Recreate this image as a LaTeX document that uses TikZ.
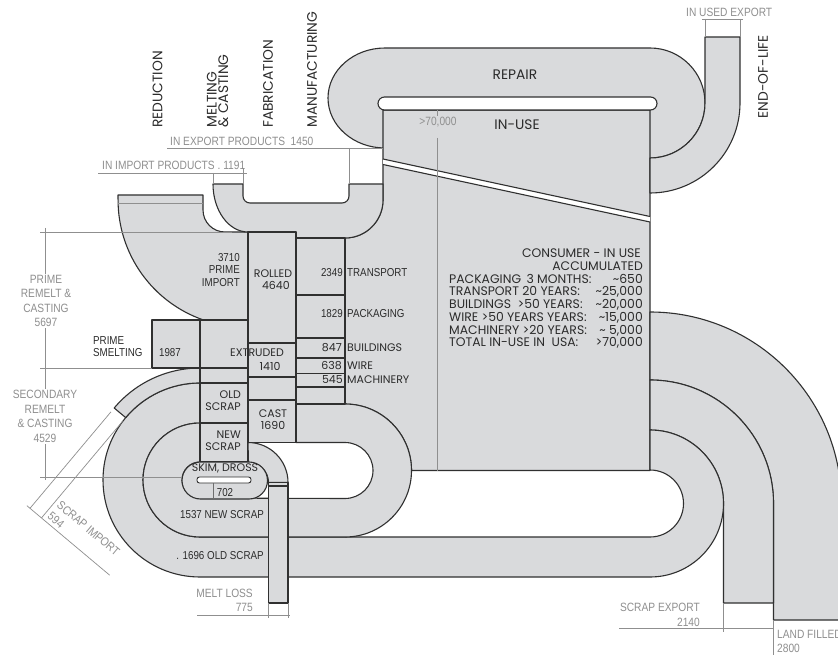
\documentclass[tikz,border=0pt]{standalone}
\usepackage{fontspec}
\setmainfont{Liberation Sans}
\newfontfamily\narrowfont{Liberation Sans}[FakeStretch=0.85]
\newfontfamily\gothfont{Poppins}
\usetikzlibrary{calc}
\definecolor{flowgray}{HTML}{D9DADC}
\definecolor{edgegray}{HTML}{303030}
\definecolor{dimgray}{HTML}{8F8F8F}
\definecolor{labeldark}{HTML}{2B2B2B}
\tikzset{
  flow/.style={fill=flowgray, draw=edgegray, line width=1.1pt, line join=round},
  edge/.style={draw=edgegray, line width=1.1pt},
  dimline/.style={draw=dimgray, line width=0.7pt},
  dimtext/.style={font=\narrowfont\fontsize{12}{14.5}\selectfont, text=dimgray, inner sep=0pt},
  flowtext/.style={font=\narrowfont\fontsize{11.5}{12.5}\selectfont, text=labeldark, inner sep=0pt},
  celltext/.style={font=\gothfont\fontsize{11}{12}\selectfont, text=labeldark, inner sep=0pt},
  stagetext/.style={font=\gothfont\fontsize{13.8}{11.5}\selectfont, text=labeldark, inner sep=0pt},
  stocktext/.style={font=\gothfont\fontsize{12.4}{12}\selectfont, text=labeldark, inner sep=0pt},
}
\begin{document}
\begin{tikzpicture}[x=1pt,y=-1pt]
 \useasboundingbox (0,0) rectangle (838,655);
 \fill[white] (0,0) rectangle (838,655);
 % repair loop and in-use stock
 \fill[flowgray] (385,148) arc[start angle=90,end angle=270,x radius=57,y radius=50] -- (650,48) arc[start angle=-90,end angle=90,radius=55] -- (650,110) -- (383,110) -- (383,148) -- cycle;
 \draw[edge] (385,148) arc[start angle=90,end angle=270,x radius=57,y radius=50] -- (650,48) arc[start angle=-90,end angle=90,radius=55];
 \draw[flow] (383,110) -- (650,110) -- (650,470.5) -- (411.5,470.5) arc[start angle=0,end angle=-90,radius=66.5] -- (345,238) arc[start angle=90,end angle=0,radius=38] -- cycle;
 \fill[white] (383,159) -- (650,216.5) -- (650,222) -- (383,164.5) -- cycle;
 \draw[edge] (383,159) -- (650,216.5) (383,164.5) -- (650,222);
 \draw[edge, fill=white, rounded corners=6.5pt] (378,97) rectangle (657,110);
 % end of life
 \draw[flow] (650,158) arc[start angle=90,end angle=0,radius=55] -- (705,37) -- (740,37) -- (740,103) arc[start angle=0,end angle=90,radius=90] -- cycle;
 \draw[flow] (650,312) arc[start angle=-90,end angle=0,radius=191.5] -- (841.5,620) -- (773.5,620) -- (773.5,503.5) arc[start angle=0,end angle=-90,radius=123.5] -- cycle;
 \draw[flow] (650,380) arc[start angle=-90,end angle=0,radius=123.5] -- (773.5,603) -- (723.5,603) -- (723.5,503.5) arc[start angle=0,end angle=-90,radius=73.5] -- cycle;
 % scrap loops
 \draw[flow] (650,430) arc[start angle=-90,end angle=90,radius=73.5] -- (200,577) arc[start angle=90,end angle=270,radius=97] -- (200,423) arc[start angle=270,end angle=90,radius=57] -- (650,537) arc[start angle=90,end angle=-90,radius=33.5] -- cycle;
 \draw[flow] (296,404) -- (345,404) arc[start angle=-90,end angle=90,radius=66.5] -- (200,537) arc[start angle=90,end angle=270,radius=57] -- (200,462) arc[start angle=270,end angle=90,radius=18] -- (345,498.5) arc[start angle=90,end angle=-90,radius=28] -- (296,442.5) -- cycle;
 \draw[flow] (200,368) arc[start angle=270,end angle=220,radius=112] -- (125.7,417.6) arc[start angle=220,end angle=270,radius=97] -- cycle;
 % prime import and product cup
 \draw[flow] (118,195) -- (203,195) -- (203,210) arc[start angle=180,end angle=90,radius=22] -- (248,232) -- (248,320) -- (203.5,320) arc[start angle=109.1,end angle=180,radius=127] -- cycle;
 \draw[dimline] (118,203) -- (203,203);
 \draw[flow] (213,184) -- (243,184) -- (243,196) arc[start angle=180,end angle=90,radius=7] -- (342,203) arc[start angle=90,end angle=0,radius=7] -- (349,184) -- (383,184) -- (383,200) arc[start angle=0,end angle=90,radius=38] -- (296,238) -- (296,232) -- (248,232) arc[start angle=90,end angle=180,x radius=35,y radius=48] -- cycle;
 % stage columns
 \draw[flow] (152,320) rectangle (200,368);
 \foreach \ya/\yb in {320/368, 368/383, 383/423, 423/462} \draw[flow] (200,\ya) rectangle (248,\yb);
 \foreach \ya/\yb in {232/343, 343/377, 377/400, 400/442.5} \draw[flow] (248,\ya) rectangle (296,\yb);
 \foreach \ya/\yb in {238/295, 295/338, 338/358, 358/373.5, 373.5/387, 387/404} \draw[flow] (296,\ya) rectangle (345,\yb);
 % melt loss and dross
 \draw[flow] (248,442.5) arc[start angle=-90,end angle=0,radius=40] -- (268.5,482.5) arc[start angle=0,end angle=-90,radius=20] -- cycle;
 \draw[flow] (200.5,462) -- (249,462) arc[start angle=-90,end angle=90,radius=18.5] -- (200.5,499) arc[start angle=90,end angle=270,radius=18.5] -- cycle;
 \draw[edge, line width=0.9pt, fill=white, rounded corners=2.5pt] (197,477) rectangle (251,483);
 \draw[flow] (268.5,482.5) rectangle (288,603);
 \draw[edge] (268.5,486) -- (288,486);
 \draw[dimline, draw=edgegray!70] (213,483) -- (213,499);
 % dimension lines
 \draw[dimline] (45,228) -- (45,480) (40,232) -- (232,232) (40,368) -- (152,368) (40,477) -- (182,477);
 \draw[dimline] (167,148) -- (383,148) (349,148) -- (349,184);
 \draw[dimline] (98,173) -- (247,173) (213,173) -- (213,184) (243,168) -- (243,184);
 \draw[dimline] (702,19) -- (743,19) (705,19) -- (705,37) (740,19) -- (740,37);
 \draw[dimline] (437,138) -- (437,470.5) (437,110) -- (437,116);
 \draw[dimline] (197,615) -- (290,615) (268.5,603) -- (268.5,618) (288,603) -- (288,618);
 \draw[dimline] (619,628) -- (773.5,628) (723.5,603) -- (723.5,632) (773.5,620) -- (773.5,655);
 \draw[dimline] (111,411.8) -- (30,508.3) (122.5,421.4) -- (41.5,517.9) (26.9,505.7) -- (109.7,575.2);
 % stage headings
 \node[stagetext, rotate=90, anchor=west] (reduction) at (157.5,128) {REDUCTION};
 \node[stagetext, rotate=90, anchor=west, align=left] (melting) at (217.5,128) {MELTING\\\& CASTING};
 \node[stagetext, rotate=90, anchor=west] (fabrication) at (268,128) {FABRICATION};
 \node[stagetext, rotate=90, anchor=west] (manufacturing) at (312,128) {MANUFACTURING};
 \node[stagetext, rotate=90] (endoflife) at (763,77) {END-OF-LIFE};
 \node[stagetext] (repair) at (515,75) {REPAIR};
 \node[stagetext] (inuse) at (517,125) {IN-USE};
 % dimension labels
 \node[dimtext, anchor=base west] (exportprod) at (170,146) {IN EXPORT PRODUCTS \ 1450};
 \node[dimtext, anchor=base west] (importprod) at (102,170) {IN IMPORT PRODUCTS . 1191};
 \node[dimtext, anchor=base west] (usedexport) at (686,16.5) {IN USED EXPORT};
 \node[dimtext] (stocktotal) at (438,122) {>70,000};
 \node[dimtext, align=center, fill=white, inner sep=1.5pt] (primeremelt) at (46,301) {PRIME\\REMELT \&\\CASTING\\5697};
 \node[dimtext, align=center, fill=white, inner sep=1.5pt] (secremelt) at (45,416.5) {SECONDARY\\REMELT\\\& CASTING\\4529};
 \node[dimtext, align=right, anchor=east] (meltloss) at (253,600.5) {MELT LOSS\\775};
 \node[dimtext, align=right, anchor=east] (scrapexport) at (700,615) {SCRAP EXPORT\\2140};
 \node[dimtext, align=left, anchor=west] (landfill) at (777,641.5) {LAND FILLED\\2800};
 \node[dimtext, align=left, rotate=-40, anchor=south west] (scrapimport) at (46.5,518) {SCRAP IMPORT\\594};
 % flow labels
 \node[flowtext, align=left, anchor=west] (smelting) at (93,346.5) {PRIME\\SMELTING};
 \node[flowtext] (smeltval) at (170,353) {1987};
 \node[flowtext, align=right, anchor=east] (primeimport) at (240,270) {3710\\PRIME\\IMPORT};
 \node[celltext, align=center] (rolled) at (273,280) {ROLLED\\\ \ 4640};
 \node[flowtext, anchor=east] (transval) at (343,273) {2349};
 \node[flowtext, anchor=west] (translbl) at (347,273) {TRANSPORT};
 \node[flowtext, anchor=east] (packval) at (343,314) {1829};
 \node[flowtext, anchor=west] (packlbl) at (347,314) {PACKAGING};
 \node[celltext, anchor=east] (buildval) at (342,348) {847};
 \node[celltext, anchor=west] (buildlbl) at (347,348) {BUILDINGS};
 \node[celltext, anchor=east] (wireval) at (342,366) {638};
 \node[celltext, anchor=west] (wirelbl) at (347,366) {WIRE};
 \node[celltext, anchor=east] (machval) at (343,380) {545};
 \node[celltext, anchor=west] (machlbl) at (347,380) {MACHINERY};
 \node[celltext] (extruded) at (257,353) {EXTRUDED};
 \node[celltext] (extrudedval) at (270,366) {1410};
 \node[celltext, align=right, anchor=east] (oldscrap) at (241,401) {OLD\\SCRAP};
 \node[celltext, align=center] (cast) at (273,420) {CAST\\1690};
 \node[celltext, align=right, anchor=east] (newscrap) at (241,441) {NEW\\SCRAP};
 \node[celltext] (skim) at (225,468) {SKIM, DROSS};
 \node[flowtext] (drossval) at (225,493) {702};
 \node[flowtext] (newscrapflow) at (222,515) {1537 NEW SCRAP};
 \node[flowtext] (oldscrapflow) at (220,556) {. 1696 OLD SCRAP};
 % consumer stock table
 \node[stocktext, anchor=base east] (consumer) at (641,257.5) {CONSUMER - IN USE};
 \node[stocktext, anchor=base east] (accum) at (643,270.5) {ACCUMULATED};
 \foreach \name/\life/\stock [count=\i] in {pack/{PACKAGING \,3 MONTHS:}/{\textasciitilde650}, trans/{TRANSPORT 20 YEARS:}/{\textasciitilde25,000}, build/{BUILDINGS \ >50 YEARS:}/{\textasciitilde20,000}, wire/{WIRE >50 YEARS YEARS:}/{\textasciitilde15,000}, mach/{MACHINERY >20 YEARS:}/{\textasciitilde\ 5,000}, total/{TOTAL IN-USE IN \ USA:}/{>70,000}} {
  \node[stocktext, anchor=base west] (\name-life) at (449,270.5+12.7*\i) {\life};
  \node[stocktext, anchor=base east] (\name-stock) at (643,270.5+12.7*\i) {\stock};
 }
\end{tikzpicture}
\end{document}
